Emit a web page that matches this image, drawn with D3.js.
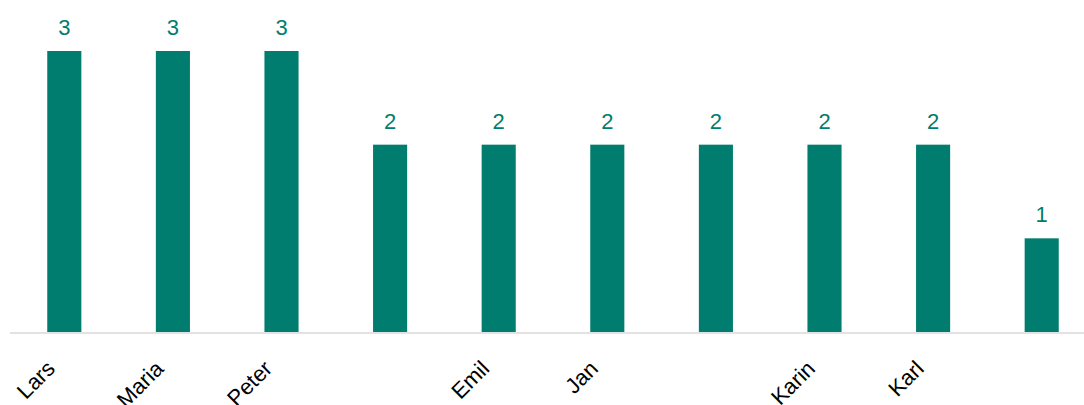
<!DOCTYPE html>
<html>
<head>
<meta charset="utf-8">
<script src="https://cdn.jsdelivr.net/npm/d3@7"></script>
<style>
  body { margin: 0; background: #fff; }
  text { font-family: "Liberation Sans", Arial, sans-serif; }
</style>
</head>
<body>
<svg width="1084" height="405"></svg>
<script>
const names = ['Lars', 'Maria', 'Peter', '', 'Emil', 'Jan', '', 'Karin', 'Karl', ''];
const counts = [3, 3, 3, 2, 2, 2, 2, 2, 2, 1];

const svg = d3.select('svg');
const width = +svg.attr('width');
const height = +svg.attr('height');
const barColor = '#007d6e';

const data = names.map((n, i) => ({ key: i, name: n, value: counts[i] }));

const xScale = d3.scaleBand()
    .domain(data.map(d => d.key))
    .range([10, 1096])
    .paddingInner(0.686)
    .paddingOuter(0.343);

const yScale = d3.scaleLinear()
    .domain([0, 3])
    .range([332, 51]);

// baseline
svg.append('line')
    .attr('x1', 10).attr('x2', width)
    .attr('y1', yScale(0) + 1).attr('y2', yScale(0) + 1)
    .attr('stroke', '#d9d9d9')
    .attr('stroke-width', 1.5);

svg.selectAll('rect.bar').data(data)
  .enter().append('rect')
    .attr('class', 'bar')
    .attr('x', d => xScale(d.key))
    .attr('y', d => yScale(d.value))
    .attr('width', xScale.bandwidth())
    .attr('height', d => yScale(0) - yScale(d.value))
    .attr('fill', barColor);

// value labels
svg.selectAll('text.val').data(data)
  .enter().append('text')
    .attr('class', 'val')
    .attr('x', d => xScale(d.key) + xScale.bandwidth() / 2)
    .attr('y', d => yScale(d.value) - 16)
    .attr('text-anchor', 'middle')
    .attr('font-size', '22px')
    .attr('fill', barColor)
    .text(d => d.value);

// category labels, rotated
svg.selectAll('text.cat').data(data)
  .enter().append('text')
    .attr('class', 'cat')
    .attr('text-anchor', 'end')
    .attr('font-size', '22px')
    .attr('fill', '#000')
    .attr('transform', d => {
        const cx = xScale(d.key) + xScale.bandwidth() / 2;
        return `translate(${cx - 8}, 370) rotate(-45)`;
    })
    .text(d => d.name);
</script>
</body>
</html>
